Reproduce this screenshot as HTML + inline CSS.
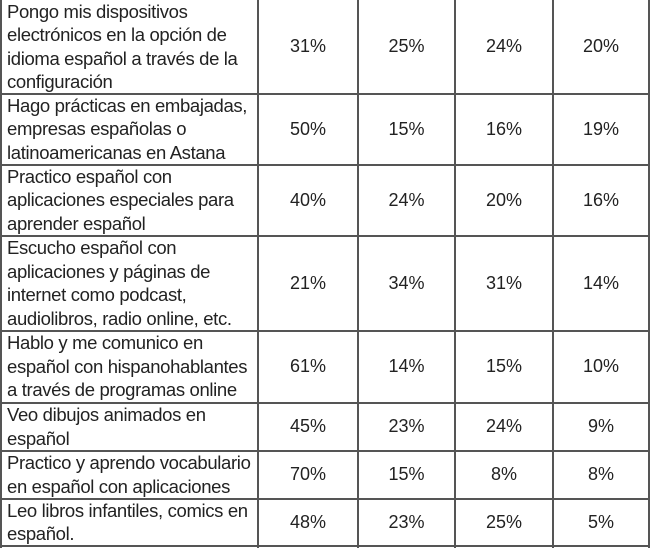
<!DOCTYPE html>
<html><head><meta charset="utf-8"><style>
html,body{margin:0;padding:0;background:#fff;width:650px;height:548px;overflow:hidden;position:relative}
.h{position:absolute;left:0;width:650px;height:2px;background:#555}
.v{position:absolute;top:0;height:548px;width:2px;background:#555}
.c{position:absolute;display:flex;align-items:center;font-family:"Liberation Sans","DejaVu Sans",sans-serif;color:#222;white-space:nowrap}
.t{left:7px;width:250px;font-size:18.5px;line-height:23.5px;letter-spacing:-0.35px}
.n{justify-content:center;font-size:18px}
</style></head><body>
<div class="h" style="top:93px"></div><div class="h" style="top:164px"></div><div class="h" style="top:235px"></div><div class="h" style="top:330px"></div><div class="h" style="top:402px"></div><div class="h" style="top:450px"></div><div class="h" style="top:498px"></div><div class="h" style="top:545px"></div>
<div class="v" style="left:0"></div><div class="v" style="left:257px"></div><div class="v" style="left:357px"></div><div class="v" style="left:454px"></div><div class="v" style="left:552px"></div><div class="v" style="left:648px"></div>
<div id="rows"></div>
<script>
var tops=[0,94,165,236,331,403,451,499,546];
var L=[["Pongo mis dispositivos","electrónicos en la opción de","idioma español a través de la","configuración"],
["Hago prácticas en embajadas,","empresas españolas o","latinoamericanas en Astana"],
["Practico español con","aplicaciones especiales para","aprender español"],
["Escucho español con","aplicaciones y páginas de","internet como podcast,","audiolibros, radio online, etc."],
["Hablo y me comunico en","español con hispanohablantes","a través de programas online"],
["Veo dibujos animados en","español"],
["Practico y aprendo vocabulario","en español con aplicaciones"],
["Leo libros infantiles, comics en","español."]];
var V=[[31,25,24,20],[50,15,16,19],[40,24,20,16],[21,34,31,14],[61,14,15,10],[45,23,24,9],[70,15,8,8],[48,23,25,5]];
var xs=[[259,98],[359,95],[456,96],[554,94]];
var h="";
for(var i=0;i<8;i++){var t=tops[i],hh=tops[i+1]-tops[i]-1;
h+='<div class="c t" style="top:'+t+'px;height:'+hh+'px"><div>'+L[i].join("<br>")+'</div></div>';
for(var j=0;j<4;j++)h+='<div class="c n" style="top:'+t+'px;height:'+hh+'px;left:'+xs[j][0]+'px;width:'+xs[j][1]+'px">'+V[i][j]+'%</div>';}
document.getElementById("rows").innerHTML=h;
</script>
</body></html>
